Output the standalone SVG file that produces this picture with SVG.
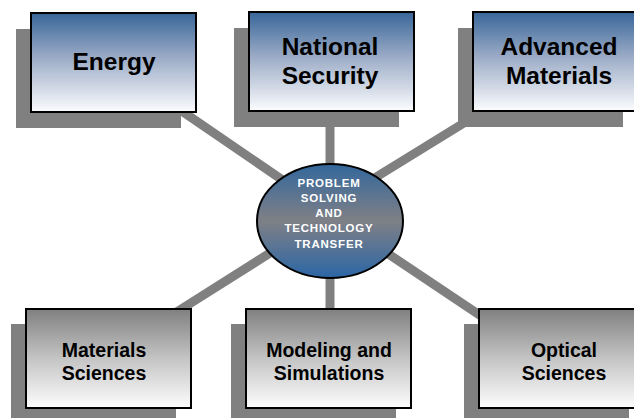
<svg xmlns="http://www.w3.org/2000/svg" width="634" height="418" viewBox="0 0 634 418">
  <defs>
    <linearGradient id="blueFade" x1="0" y1="0" x2="0" y2="1">
      <stop offset="0" stop-color="#386699"/>
      <stop offset="0.45" stop-color="#9babc6"/>
      <stop offset="1" stop-color="#fbfcfe"/>
    </linearGradient>
    <linearGradient id="grayFade" x1="0" y1="0" x2="0" y2="1">
      <stop offset="0" stop-color="#808080"/>
      <stop offset="0.5" stop-color="#c4c4c4"/>
      <stop offset="1" stop-color="#fdfdfd"/>
    </linearGradient>
    <linearGradient id="hubFill" x1="0" y1="0" x2="0" y2="1">
      <stop offset="0" stop-color="#33679c"/>
      <stop offset="0.5" stop-color="#7f8086"/>
      <stop offset="1" stop-color="#2b66a6"/>
    </linearGradient>
  </defs>
  <style>
    .shadow { fill: #808080; }
    .topbox { fill: url(#blueFade); stroke: #000; stroke-width: 2; }
    .botbox { fill: url(#grayFade); stroke: #000; stroke-width: 2; }
    .link { stroke: #808080; stroke-width: 9; fill: none; }
    .big { font-family: "Liberation Sans", Arial, sans-serif; font-weight: bold; font-size: 24.5px; fill: #000; text-anchor: middle; }
    .mid { font-family: "Liberation Sans", Arial, sans-serif; font-weight: bold; font-size: 19.5px; fill: #000; text-anchor: middle; }
    .hub { font-family: "Liberation Sans", Arial, sans-serif; font-weight: bold; font-size: 11.5px; letter-spacing: 0.8px; fill: #fff; text-anchor: middle; }
  </style>

  <!-- spokes from the hub to each area -->
  <g id="connectors">
    <line class="link" x1="170" y1="103" x2="300" y2="192"/>
    <line class="link" x1="330" y1="118" x2="330" y2="170"/>
    <line class="link" x1="472" y1="118" x2="360" y2="187"/>
    <line class="link" x1="300" y1="234" x2="175" y2="313"/>
    <line class="link" x1="330" y1="270" x2="330" y2="315"/>
    <line class="link" x1="360" y1="235" x2="490" y2="322"/>
  </g>

  <g id="energy">
    <rect class="shadow" x="16" y="29" width="165" height="99"/>
    <rect class="topbox" x="31" y="13" width="165" height="99"/>
    <text class="big" x="114" y="70">Energy</text>
  </g>

  <g id="national-security">
    <rect class="shadow" x="234" y="28" width="165" height="99"/>
    <rect class="topbox" x="249" y="12" width="165" height="99"/>
    <text class="big" x="330" y="55">National</text>
    <text class="big" x="330" y="84">Security</text>
  </g>

  <g id="advanced-materials">
    <rect class="shadow" x="458" y="28" width="165" height="99"/>
    <rect class="topbox" x="473" y="12" width="165" height="99"/>
    <text class="big" x="559" y="55">Advanced</text>
    <text class="big" x="559" y="84">Materials</text>
  </g>

  <g id="materials-sciences">
    <rect class="shadow" x="11" y="324" width="165" height="99"/>
    <rect class="botbox" x="26" y="309" width="165" height="99"/>
    <text class="mid" x="104" y="357">Materials</text>
    <text class="mid" x="104" y="380">Sciences</text>
  </g>

  <g id="modeling-simulations">
    <rect class="shadow" x="231" y="324" width="165" height="99"/>
    <rect class="botbox" x="246" y="309" width="165" height="99"/>
    <text class="mid" x="329" y="357">Modeling and</text>
    <text class="mid" x="329" y="380">Simulations</text>
  </g>

  <g id="optical-sciences">
    <rect class="shadow" x="464" y="324" width="165" height="99"/>
    <rect class="botbox" x="479" y="309" width="165" height="99"/>
    <text class="mid" x="564" y="357">Optical</text>
    <text class="mid" x="564" y="380">Sciences</text>
  </g>

  <g id="hub">
    <ellipse cx="330" cy="221" rx="73" ry="57" fill="url(#hubFill)" stroke="#000" stroke-width="2"/>
    <text class="hub" x="329" y="187">PROBLEM</text>
    <text class="hub" x="329" y="202">SOLVING</text>
    <text class="hub" x="329" y="217">AND</text>
    <text class="hub" x="329" y="232">TECHNOLOGY</text>
    <text class="hub" x="329" y="248">TRANSFER</text>
  </g>
</svg>
